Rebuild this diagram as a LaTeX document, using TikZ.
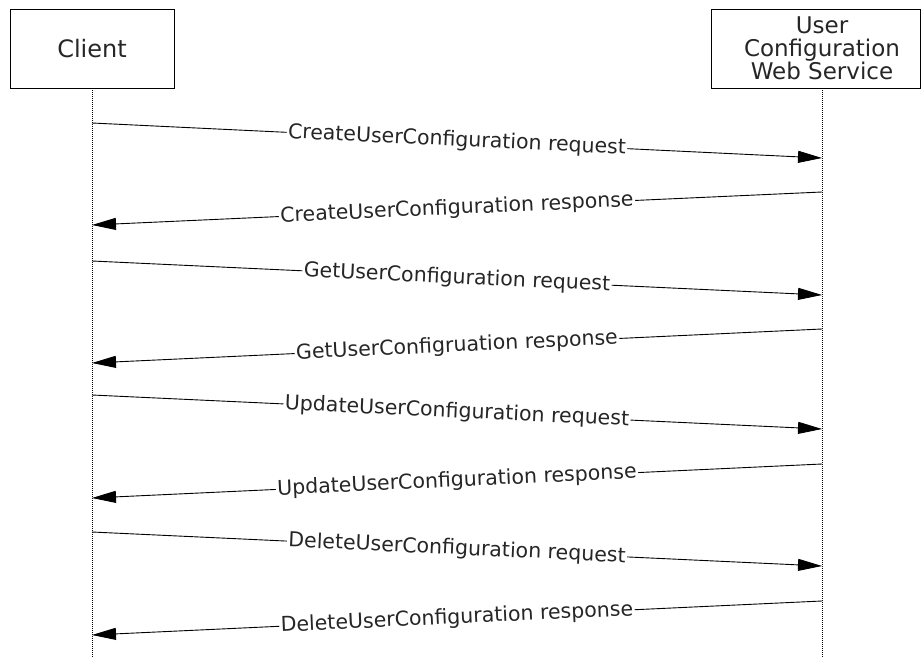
\documentclass[tikz,border=0pt]{standalone}
\usepackage{fontspec}
\setmainfont{DejaVu Sans}
\usetikzlibrary{arrows.meta}
\begin{document}
\begin{tikzpicture}[x=1pt,y=-1pt,
  actorbox/.style={draw, line width=0.9pt, fill=white, inner sep=0pt, font=\fontsize{24}{23}\selectfont, align=center, text=black!85},
  actortext/.style={inner sep=0pt, font=\fontsize{23}{23}\selectfont, align=center, text=black!85},
  life/.style={line width=0.9pt, dash pattern=on 1pt off 1pt},
  msg/.style={line width=0.9pt, -{Triangle[length=24pt,width=12pt]}},
  lbl/.style={sloped, fill=white, inner sep=1.5pt, font=\fontsize{20.5}{22}\selectfont, text=black!85}
]
\useasboundingbox (0,0) rectangle (921,658);
\fill[white] (0,0) rectangle (921,658);

% actors
\node[actorbox, minimum width=164pt, minimum height=79pt] (client) at (92,48.5) {Client};
\node[actorbox, minimum width=208.5pt, minimum height=79pt] (svcbox) at (815.75,48.5) {};
\node[actortext] (svc) at (822,48.5) {User\\Configuration\\Web Service};

% lifelines
\coordinate (clend) at (92,658);
\coordinate (svend) at (822,658);
\draw[life] (client.south) -- (clend);
\draw[life] (svc |- svcbox.south) -- (svend);

% message end points
\coordinate (a1) at (92,123);  \coordinate (b1) at (822,158);
\coordinate (b2) at (822,192); \coordinate (a2) at (92,225);
\coordinate (a3) at (92,261);  \coordinate (b3) at (822,295);
\coordinate (b4) at (822,329); \coordinate (a4) at (92,363);
\coordinate (a5) at (92,395);  \coordinate (b5) at (822,429);
\coordinate (b6) at (822,464); \coordinate (a6) at (92,498);
\coordinate (a7) at (92,532);  \coordinate (b7) at (822,566);
\coordinate (b8) at (822,601); \coordinate (a8) at (92,635);

\draw[msg] (a1) -- node[lbl] (m1) {CreateUserConfiguration request} (b1);
\draw[msg] (b2) -- node[lbl] (m2) {CreateUserConfiguration response} (a2);
\draw[msg] (a3) -- node[lbl] (m3) {GetUserConfiguration request} (b3);
\draw[msg] (b4) -- node[lbl] (m4) {GetUserConfigruation response} (a4);
\draw[msg] (a5) -- node[lbl] (m5) {UpdateUserConfiguration request} (b5);
\draw[msg] (b6) -- node[lbl] (m6) {UpdateUserConfiguration response} (a6);
\draw[msg] (a7) -- node[lbl] (m7) {DeleteUserConfiguration request} (b7);
\draw[msg] (b8) -- node[lbl] (m8) {DeleteUserConfiguration response} (a8);
\end{tikzpicture}
\end{document}
